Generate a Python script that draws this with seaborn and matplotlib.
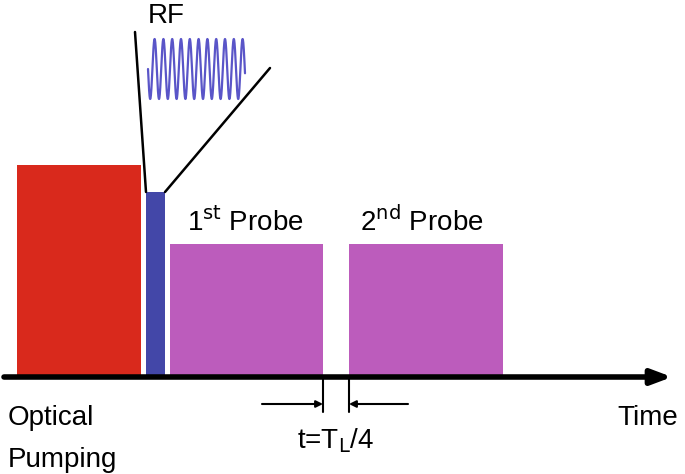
import numpy as np
import matplotlib.pyplot as plt
import seaborn as sns

sns.set_style("white")
plt.rcParams["font.family"] = "Liberation Sans"
plt.rcParams["text.color"] = "black"

# pulse sequence (time units, pulse height)
pulse_names = ["Optical Pumping", "RF", "1st Probe", "2nd Probe"]
pulse_start = [17, 146, 170, 349]
pulse_end = [141, 165, 323, 503]
pulse_height = [212, 185, 133, 133]
pulse_colors = ["#d9291c", "#4347a8", "#bc5cbc", "#bc5cbc"]

baseline = 377  # time axis y (image coordinates, y grows downward)
fs = 20

fig = plt.figure(figsize=(6.85, 4.74), dpi=100)
ax = fig.add_axes([0, 0, 1, 1])
ax.set_xlim(0, 685)
ax.set_ylim(474, 0)
ax.axis("off")

widths = np.array(pulse_end) - np.array(pulse_start)
ax.bar(pulse_start, [-h for h in pulse_height], width=widths, bottom=baseline,
       align="edge", color=pulse_colors, linewidth=0)

# time axis
ax.annotate("", xy=(672, baseline), xytext=(4, baseline),
            arrowprops=dict(arrowstyle="-|>,head_length=1.2,head_width=0.45",
                            lw=4, color="black", shrinkA=0, shrinkB=0))

# RF zoom funnel
rf_top = baseline - pulse_height[1]
ax.plot([pulse_start[1], 135], [rf_top, 32], color="black", lw=1.8)
ax.plot([pulse_end[1], 270], [rf_top, 68], color="black", lw=1.8)
t = np.linspace(148, 245, 800)
ax.plot(t, 69 + 30 * np.sin(2 * np.pi * (t - 148) / 8.8), color="#5a55c8", lw=1.6)
ax.text(166, 16, "RF", fontsize=fs, ha="center", va="center")

ax.text(187, 222, r"1$^{\rm st}$ Probe", fontsize=fs, va="center")
ax.text(360, 222, r"2$^{\rm nd}$ Probe", fontsize=fs, va="center")
ax.text(8, 418, "Optical", fontsize=fs, va="center")
ax.text(8, 460, "Pumping", fontsize=fs, va="center")
ax.text(617, 418, "Time", fontsize=fs, va="center")

# delay marker between probes
for xv in (pulse_end[2], pulse_start[3]):
    ax.plot([xv, xv], [baseline, 412], color="black", lw=1.5)
ax.annotate("", xy=(pulse_end[2], 404), xytext=(262, 404),
            arrowprops=dict(arrowstyle="-|>", lw=1.5, color="black", shrinkA=0, shrinkB=0))
ax.annotate("", xy=(pulse_start[3], 404), xytext=(408, 404),
            arrowprops=dict(arrowstyle="-|>", lw=1.5, color="black", shrinkA=0, shrinkB=0))
ax.text(336, 441, r"t=T$_{\rm L}$/4", fontsize=fs, ha="center", va="center")

fig.savefig("out.png", dpi=100)
